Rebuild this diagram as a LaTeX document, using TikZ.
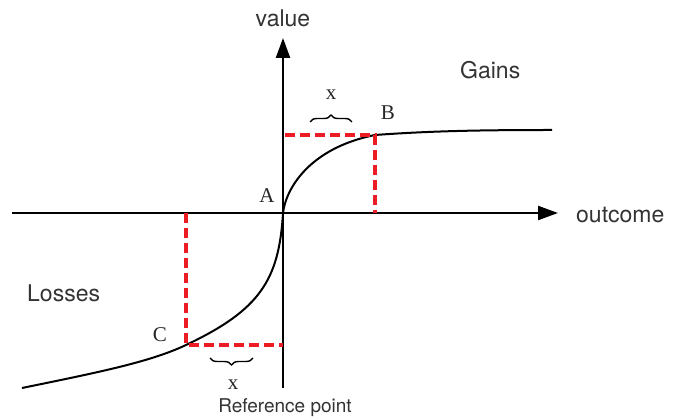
\documentclass[tikz,border=0pt]{standalone}
\usepackage{fontspec}
\setmainfont{Liberation Serif}
\setsansfont{TeX Gyre Heros}
\usepackage{tikz}
\usetikzlibrary{arrows.meta}
\usetikzlibrary{decorations.pathreplacing}
\definecolor{guidered}{RGB}{236,28,36}

\begin{document}
\begin{tikzpicture}[x=1pt,y=1pt,
    axis/.style={line width=2.4pt,-{Triangle[length=20pt,width=14pt]}},
    curve/.style={line width=2pt},
    guide/.style={guidered,line width=3.4pt,dash pattern=on 10pt off 5pt},
    xbrace/.style={decorate,decoration={brace,amplitude=7pt},line width=1.4pt},
    word/.style={inner sep=0pt,text=black!80,font=\sffamily\fontsize{23}{25}\selectfont},
    letter/.style={inner sep=0pt,text=black!85,font=\fontsize{21}{23}\selectfont}]
        \useasboundingbox (0,0) rectangle (678,420);

        %------------------
        % 点
        %------------------
        \coordinate (O) at (283,207);
        \coordinate (B) at (375,285);
        \coordinate (C) at (186,75);
        \coordinate (ytop) at (283,382);
        \coordinate (ybot) at (283,32);
        \coordinate (xleft) at (12,207);
        \coordinate (xright) at (558,207);
        \coordinate (Bfoot) at (375,207);
        \coordinate (Bside) at (285,285);
        \coordinate (Cfoot) at (186,207);
        \coordinate (Cside) at (283,75);
        \coordinate (gend) at (552,290);
        \coordinate (lend) at (22,32);

        %------------------
        % 軸
        %------------------
        \draw[axis] (xleft)--(xright);
        \draw[axis] (ybot)--(ytop);

        %------------------
        % 価値関数
        %------------------
        \draw[curve] (lend) .. controls (100,48) and (150,58) .. (C)
          .. controls (260,110) and (279,140) .. (O)
          .. controls (286,232) and (310,272) .. (B)
          .. controls (430,289) and (480,290) .. (gend);

        %------------------
        % 補助線（点線）
        %------------------
        \draw[guide] (Bside)--(B)--(Bfoot);
        \draw[guide] (Cfoot)--(C)--(Cside);

        % 括弧
        \draw[xbrace] (310,298)--(352,298);
        \draw[xbrace] (253,62)--(210,62);

        %------------------
        % ラベル
        %------------------
        \node[word] (valuelbl) at (283,402) {value};
        \node[word,anchor=base west] (outcomelbl) at (576,197) {outcome};
        \node[word,anchor=base west] (gainslbl) at (460,341) {Gains};
        \node[word,anchor=base west] (losseslbl) at (27,118) {Losses};
        \node[word,anchor=base,font=\sffamily\fontsize{19}{21}\selectfont] (reflbl) at (285,7) {Reference point};
        \node[letter,anchor=base] (Albl) at (267,217) {A};
        \node[letter,anchor=base] (Blbl) at (388,300) {B};
        \node[letter,anchor=base] (Clbl) at (160,78) {C};
        \node[letter,anchor=base] (xup) at (331,320) {x};
        \node[letter,anchor=base] (xdown) at (233,30) {x};
      \end{tikzpicture}
\end{document}
